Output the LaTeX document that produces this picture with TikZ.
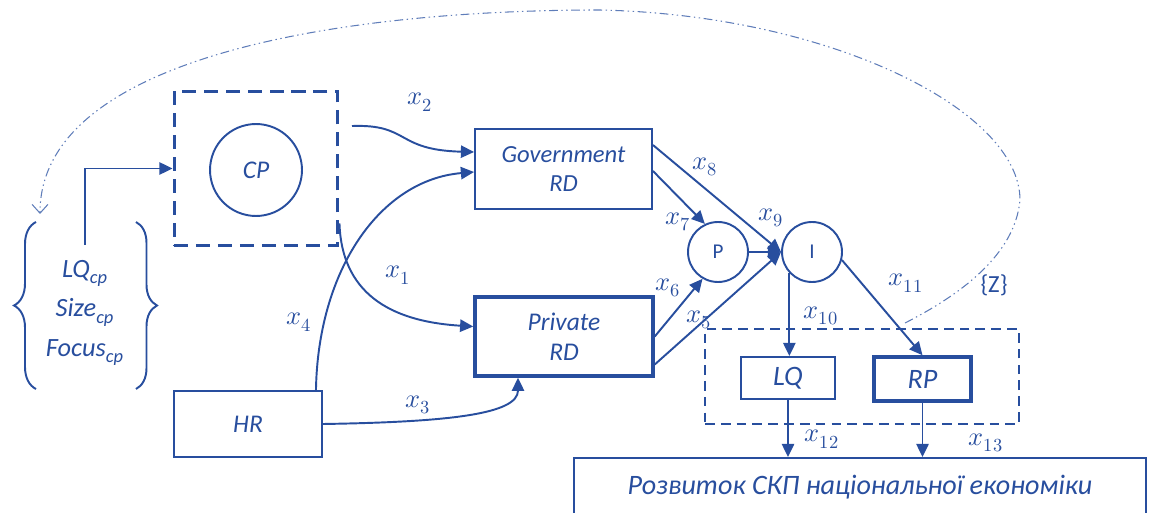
\documentclass[tikz,border=0pt]{standalone}
\usepackage{fontspec}
\usepackage{unicode-math}
\setmainfont{Carlito}
\usetikzlibrary{arrows.meta,decorations.pathreplacing}
\definecolor{rdblue}{RGB}{40,78,158}
\definecolor{loopblue}{RGB}{95,125,185}

\begin{document}
\begin{tikzpicture}[x=0.02cm,y=-0.02cm,
  every node/.style={text=rdblue},
  blk/.style={draw=rdblue,line width=1.1pt,font=\fontsize{14.5}{17}\selectfont\itshape,align=center,inner sep=0pt},
  thickblk/.style={blk,line width=2pt},
  ring/.style={circle,draw=rdblue,line width=1.1pt,inner sep=0pt},
  frame/.style={draw=rdblue,line width=1.7pt,dash pattern=on 8pt off 4.5pt},
  zframe/.style={draw=rdblue,line width=1.1pt,dash pattern=on 5.5pt off 3.5pt},
  lnk/.style={draw=rdblue,line width=1.1pt,-{Triangle[length=7.5pt,width=7pt]}},
  loopline/.style={draw=loopblue,line width=0.6pt,dash pattern=on 5pt off 2pt on 0.8pt off 2pt on 0.8pt off 2pt,-{Straight Barb[length=5pt,width=9pt]}},
  xlab/.style={font=\fontsize{15}{17}\selectfont}]
  \useasboundingbox (0,0) rectangle (1149,513);

  % cluster with its factors
  \node[frame,minimum width=3.28cm,minimum height=3.1cm] (cpbox) at (256,168.5) {};
  \node[ring,minimum size=1.84cm,font=\fontsize{14.5}{17}\selectfont\itshape] (cp) at (256,170) {CP};
  \node[align=center,font=\fontsize{15}{22.5}\selectfont\itshape] (cpf) at (85,313)
     {LQ\textsubscript{cp}\\Size\textsubscript{cp}\\Focus\textsubscript{cp}};
  \draw[rdblue,line width=1.1pt,decorate,decoration={brace,amplitude=0.44cm}] (36,389) -- (36,222);
  \draw[rdblue,line width=1.1pt,decorate,decoration={brace,amplitude=0.42cm}] (136,222) -- (136,389);
  \coordinate (cpin) at (85,245);

  % R&D blocks
  \node[blk,minimum width=3.54cm,minimum height=1.6cm,font=\fontsize{14}{16.5}\selectfont\itshape] (gov) at (563.5,169) {Government\\RD};
  \node[thickblk,minimum width=3.56cm,minimum height=1.58cm] (priv) at (564,336.5) {Private\\RD};
  \node[blk,minimum width=2.96cm,minimum height=1.32cm] (hr) at (248,424) {HR};

  \node[ring,minimum size=1.2cm,font=\fontsize{12}{14}\selectfont] (P) at (718,252) {P};
  \node[ring,minimum size=1.2cm,font=\fontsize{12}{14}\selectfont] (I) at (812,252) {I};

  % outcomes
  \node[zframe,minimum width=6.28cm,minimum height=1.9cm] (zbox) at (862,376.5) {};
  \node[blk,minimum width=1.88cm,minimum height=0.84cm,font=\fontsize{16}{18}\selectfont\itshape] (LQ) at (788,378) {LQ};
  \node[thickblk,minimum width=1.94cm,minimum height=0.88cm,font=\fontsize{16}{18}\selectfont\itshape] (RP) at (922.5,379) {RP};
  \node[blk,minimum width=11.44cm,minimum height=1.16cm,font=\fontsize{16}{18}\selectfont\itshape] (econ) at (860,487)
     {Розвиток СКП національної економіки};

  % links
  \coordinate (x2s) at (352,126);
  \draw[lnk] (cpin) |- (cpbox.west);
  \draw[lnk] (x2s) .. controls (410,124) and (395,150) .. ([yshift=0.34cm]gov.west);
  \draw[lnk] ([yshift=0.48cm]cpbox.south east) .. controls (342,300) and (400,322) .. ([yshift=0.2cm]priv.west);
  \draw[lnk] ([xshift=-0.14cm]hr.north east) .. controls (318,270) and (380,180) .. ([yshift=-0.06cm]gov.west);
  \draw[lnk] (hr.east) .. controls (450,422) and (518,414) .. ([xshift=-0.92cm]priv.south);
  \draw[lnk] ([yshift=0.48cm]gov.east) -- (I.west);
  \draw[lnk] ([yshift=-0.04cm]gov.east) -- (P.115);
  \draw[lnk] (priv.east) -- (P.240);
  \draw[lnk] ([yshift=-0.56cm]priv.east) -- (I.west);
  \draw[lnk] (P.east) -- (I.west);
  \draw[lnk] (I.223) -- (I.223 |- LQ.north);
  \draw[lnk] (I.-15) -- (RP.north);
  \draw[lnk] (LQ.south) -- (LQ.south |- econ.north);
  \draw[lnk] (RP.south) -- (RP.south |- econ.north);

  % feedback loop
  \coordinate (zlp) at (905,323);
  \coordinate (cpret) at (40,214);
  \draw[loopline] (zlp) .. controls (960,295) and (1015,255) .. (1020,200)
     .. controls (1020,110) and (830,15) .. (600,10)
     .. controls (330,10) and (40,60) .. (cpret);

  % labels
  \node[xlab] (l1) at (398,275) {$x_1$};
  \node[xlab] (l2) at (420,102) {$x_2$};
  \node[xlab] (l3) at (418,405) {$x_3$};
  \node[xlab] (l4) at (299,322) {$x_4$};
  \node[xlab] (l5) at (699,320) {$x_5$};
  \node[xlab] (l6) at (668,288) {$x_6$};
  \node[xlab] (l7) at (678,222) {$x_7$};
  \node[xlab] (l8) at (705,167) {$x_8$};
  \node[xlab] (l9) at (771,218) {$x_9$};
  \node[xlab] (l10) at (821,316) {$x_{10}$};
  \node[xlab] (l11) at (906,283) {$x_{11}$};
  \node[xlab] (l12) at (822,439) {$x_{12}$};
  \node[xlab] (l13) at (986,443) {$x_{13}$};
  \node[font=\fontsize{14}{16}\selectfont] (zl) at (994,285) {\{Z\}};
\end{tikzpicture}
\end{document}
